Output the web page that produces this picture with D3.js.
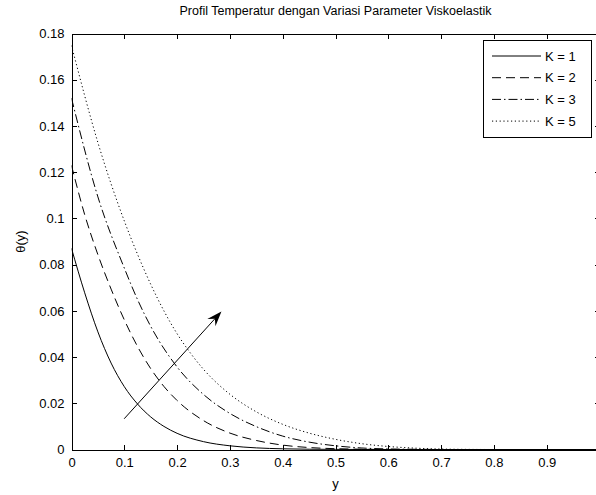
<!DOCTYPE html>
<html>
<head>
<meta charset="utf-8">
<script src="https://cdn.jsdelivr.net/npm/d3@7"></script>
<style>
  body { margin: 0; background: #fff; }
  svg { display: block; }
  text { font-family: "Liberation Sans", Arial, Helvetica, sans-serif; fill: #000; }
</style>
</head>
<body>
<svg id="chart" width="596" height="495"></svg>
<script>
// Labels
const chartTitle = "Profil Temperatur dengan Variasi Parameter Viskoelastik";
const xLabel = "y";
const yLabel = "θ(y)";
const xTicks = [0, 0.1, 0.2, 0.3, 0.4, 0.5, 0.6, 0.7, 0.8, 0.9];
const yTicks = [0, 0.02, 0.04, 0.06, 0.08, 0.1, 0.12, 0.14, 0.16, 0.18];
const legendLabels = ["K = 1", "K = 2", "K = 3", "K = 5"];

// Temperature profiles θ(y), pairs of [y, θ]
const thetaK1 = [[0, 0.087], [0.025, 0.0678], [0.05, 0.0509], [0.075, 0.0374], [0.1, 0.0272],
  [0.125, 0.0197], [0.15, 0.0141], [0.175, 0.0100], [0.2, 0.0070], [0.25, 0.0034],
  [0.3, 0.0016], [0.35, 0.0007], [0.4, 0.0003], [0.45, 0.00012], [0.5, 0.00005],
  [0.55, 0], [0.8, 0], [1, 0]];
const thetaK2 = [[0, 0.1229], [0.025, 0.1016], [0.05, 0.0843], [0.075, 0.0694], [0.1, 0.0561],
  [0.125, 0.0446], [0.15, 0.0350], [0.175, 0.0273], [0.2, 0.0212], [0.25, 0.0125],
  [0.3, 0.0071], [0.35, 0.0039], [0.4, 0.0019], [0.45, 0.00085], [0.5, 0.00035],
  [0.55, 0.00012], [0.6, 0], [0.8, 0], [1, 0]];
const thetaK3 = [[0, 0.152], [0.05, 0.1093], [0.1, 0.0785], [0.125, 0.0649], [0.15, 0.0533],
  [0.2, 0.0357], [0.25, 0.0238], [0.3, 0.0156], [0.35, 0.0099], [0.4, 0.0058],
  [0.45, 0.0032], [0.5, 0.0016], [0.55, 0.00065], [0.6, 0.00025], [0.65, 0.0001],
  [0.7, 0], [0.85, 0], [1, 0]];
const thetaK5 = [[0, 0.1748], [0.05, 0.1328], [0.1, 0.0989], [0.125, 0.0845], [0.15, 0.0715],
  [0.175, 0.0600], [0.2, 0.0501], [0.225, 0.0418], [0.25, 0.0347], [0.3, 0.0239],
  [0.35, 0.0163], [0.4, 0.0109], [0.45, 0.0071], [0.5, 0.0044], [0.55, 0.0025],
  [0.6, 0.0013], [0.65, 0.0006], [0.7, 0.0002], [0.75, 0.00005], [0.8, 0], [1, 0]];

// Direction-of-increase arrow, in data units
const arrowFrom = [0.0998, 0.0133];
const arrowTo = [0.284, 0.0597];

const series = [thetaK1, thetaK2, thetaK3, thetaK5];
const dashes = [null, "9,5", "9,3,1.5,3", "1.2,2.6"];

const svg = d3.select("#chart");
const plotLeft = 71.5, plotRight = 599.5, plotTop = 33.5, plotBottom = 449.5;

const x = d3.scaleLinear().domain([0, 1]).range([plotLeft, plotRight]);
const y = d3.scaleLinear().domain([0, 0.18]).range([plotBottom, plotTop]);

// Curves
const line = d3.line().x(d => x(d[0])).y(d => y(d[1])).curve(d3.curveMonotoneX);
const plot = svg.append("g");
plot.append("clipPath").attr("id", "clip").append("rect")
  .attr("x", plotLeft).attr("y", plotTop - 1).attr("width", plotRight - plotLeft).attr("height", plotBottom - plotTop + 2);
series.forEach((s, i) => {
  plot.append("path")
    .datum(s)
    .attr("d", line)
    .attr("clip-path", "url(#clip)")
    .attr("fill", "none")
    .attr("stroke", "#000")
    .attr("stroke-width", 1)
    .attr("stroke-dasharray", dashes[i]);
});

// Axes: ticks point inward on all four sides
const tickLen = 5;
const axisFont = "13px";
const axBottom = svg.append("g").attr("transform", `translate(0,${plotBottom})`)
  .call(d3.axisBottom(x).tickValues(xTicks).tickSize(-tickLen).tickPadding(8).tickFormat(d3.format("")));
const axTop = svg.append("g").attr("transform", `translate(0,${plotTop})`)
  .call(d3.axisTop(x).tickValues(xTicks).tickSize(-tickLen).tickFormat(""));
const axLeft = svg.append("g").attr("transform", `translate(${plotLeft},0)`)
  .call(d3.axisLeft(y).tickValues(yTicks).tickSize(-tickLen).tickPadding(7).tickFormat(d3.format("")));
const axRight = svg.append("g").attr("transform", `translate(${plotRight},0)`)
  .call(d3.axisRight(y).tickValues(yTicks).tickSize(-tickLen).tickFormat(""));
[axBottom, axTop, axLeft, axRight].forEach(g => {
  g.selectAll("path.domain").attr("stroke", "#000").attr("stroke-width", 1);
  g.selectAll(".tick line").attr("stroke", "#000").attr("stroke-width", 1);
  g.selectAll("text").style("font-size", axisFont).style("font-family", "\"Liberation Sans\", Arial, sans-serif").attr("fill", "#000");
  g.attr("shape-rendering", "crispEdges");
});

// Arrow
const ax0 = x(arrowFrom[0]), ay0 = y(arrowFrom[1]);
const ax1 = x(arrowTo[0]), ay1 = y(arrowTo[1]);
const ang = Math.atan2(ay1 - ay0, ax1 - ax0);
const headL = 15, headW = 11;
const len = Math.hypot(ax1 - ax0, ay1 - ay0);
svg.append("line")
  .attr("x1", ax0).attr("y1", ay0)
  .attr("x2", ax0 + Math.cos(ang) * (len - headL * 0.6))
  .attr("y2", ay0 + Math.sin(ang) * (len - headL * 0.6))
  .attr("stroke", "#000").attr("stroke-width", 1);
svg.append("path")
  .attr("d", `M0,0 L${-headL},${-headW / 2} L${-headL * 0.65},0 L${-headL},${headW / 2} Z`)
  .attr("transform", `translate(${ax1},${ay1}) rotate(${ang * 180 / Math.PI})`)
  .attr("fill", "#000");

// Title and axis labels
svg.append("text").attr("x", (plotLeft + plotRight) / 2).attr("y", 15)
  .attr("text-anchor", "middle").style("font-size", "12.5px").text(chartTitle);
svg.append("text").attr("x", (plotLeft + plotRight) / 2).attr("y", 488)
  .attr("text-anchor", "middle").style("font-size", "13px").text(xLabel);
svg.append("text").attr("transform", `translate(25,${(plotTop + plotBottom) / 2}) rotate(-90)`)
  .attr("text-anchor", "middle").style("font-size", "13px").text(yLabel);

// Legend
const lg = svg.append("g");
const lgX = 483.5, lgY = 40.5, lgW = 108, lgH = 97;
lg.append("rect").attr("x", lgX).attr("y", lgY).attr("width", lgW).attr("height", lgH)
  .attr("fill", "#fff").attr("stroke", "#000").attr("stroke-width", 1).attr("shape-rendering", "crispEdges");
legendLabels.forEach((lab, i) => {
  const ry = 56 + i * 21.7;
  lg.append("line").attr("x1", 492).attr("x2", 541).attr("y1", ry).attr("y2", ry)
    .attr("stroke", "#000").attr("stroke-width", 1).attr("stroke-dasharray", dashes[i]);
  lg.append("text").attr("x", 545).attr("y", ry).attr("dy", "0.35em")
    .style("font-size", "13px").text(lab);
});
</script>
</body>
</html>
